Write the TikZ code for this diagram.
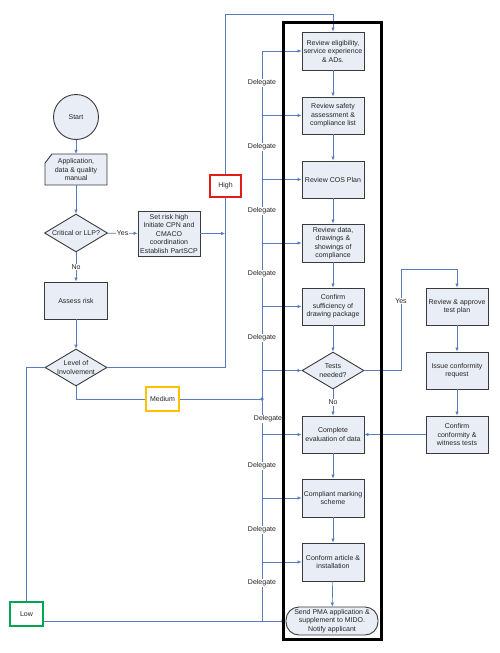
\documentclass[tikz,border=0pt]{standalone}
\usepackage{fontspec}
\setmainfont{Liberation Sans}
\usetikzlibrary{arrows.meta,shapes.geometric}
\definecolor{ln}{HTML}{5A7BBE}
\definecolor{bx}{HTML}{E8EDF6}
\definecolor{bd}{HTML}{3A3A3A}
\definecolor{fred}{HTML}{E31B1B}
\definecolor{fyel}{HTML}{FFC000}
\definecolor{fgrn}{HTML}{00A650}
\tikzset{
 fnt/.style={font=\fontsize{7}{8.5}\selectfont, text=black!85, align=center},
 pbox/.style={fnt, draw=bd, fill=bx, line width=0.9pt, minimum width=62pt, minimum height=37pt, inner sep=1pt},
 dia/.style={diamond, draw=bd, fill=bx, line width=0.9pt, minimum width=63pt, minimum height=38pt, inner sep=0pt},
 txt/.style={fnt, inner sep=1pt},
 con/.style={draw=ln, line width=0.7pt},
 arr/.style={con, -{Latex[length=4pt,width=3.6pt]}},
 lbl/.style={fnt, fill=white, inner sep=1pt},
 flag/.style={fnt, fill=white, line width=2.6pt, minimum width=31pt, minimum height=22pt, inner sep=0pt},
}
\begin{document}
\begin{tikzpicture}[x=1pt,y=1pt]
\useasboundingbox (0,0) rectangle (500,-653);
% left column
\node[circle, draw=bd, fill=bx, line width=0.9pt, minimum size=45pt, inner sep=0pt, fnt] (start) at (76,-117) {Start};
\filldraw[draw=bd, fill=bx, line width=0.9pt] (45,-163) -- (52,-154) -- (107,-154) -- (107,-185) -- (45,-185) -- cycle;
\node[txt, minimum width=62pt, minimum height=31pt] (app) at (76,-169.5) {Application,\\data \& quality\\manual};
\node[dia] (crit) at (76,-233) {};
\node[txt] (critt) at (crit) {Critical or LLP?};
\node[pbox, minimum height=45pt] (risk) at (169,-233.5) {Set risk high\\Initiate CPN and\\CMACO\\coordination\\Establish PartSCP};
\node[pbox, minimum width=63pt] (assess) at (76,-300.5) {Assess risk};
\node[dia, minimum width=62pt, minimum height=37pt] (level) at (76,-367.5) {};
\node[txt] (levelt) at (level) {Level of\\Involvement};
% main column
\node[pbox, minimum height=38pt] (b1) at (333,-51) {Review eligibility,\\service experience\\\& ADs.};
\node[pbox] (b2) at (333,-115.5) {Review safety\\assessment \&\\compliance list};
\node[pbox] (b3) at (333,-179.5) {Review COS Plan};
\node[pbox, minimum height=38pt] (b4) at (333,-243) {Review data,\\drawings \&\\showings of\\compliance};
\node[pbox] (b5) at (333,-306.5) {Confirm\\sufficiency of\\drawing package};
\node[dia, minimum width=62pt, minimum height=37pt] (tests) at (333,-370.5) {};
\node[txt] (testst) at (tests) {Tests\\needed?};
\node[pbox] (b6) at (333,-434.5) {Complete\\evaluation of data};
\node[pbox, minimum height=38pt] (b7) at (333,-498) {Compliant marking\\scheme};
\node[pbox, minimum height=38pt] (b8) at (333,-562) {Conform article \&\\installation};
\node[pbox, rounded corners=13pt, minimum width=92pt, minimum height=28pt] (term) at (332,-621) {Send PMA application \&\\supplement to MIDO.\\Notify applicant};
% right column
\node[pbox] (rap) at (457,-306.5) {Review \& approve\\test plan};
\node[pbox] (icr) at (457,-370.5) {Issue conformity\\request};
\node[pbox] (cwt) at (457,-434.5) {Confirm\\conformity \&\\witness tests};
% helper coordinates
\coordinate (hx) at (225,-14);
\coordinate (ms) at (262,-399);
\coordinate (lx) at (26,-367.5);
\coordinate (yx) at (401,-269);
% connectors left
\draw[arr] (start) -- (app);
\draw[arr] (app) -- (crit);
\draw[arr] (crit) -- node[lbl] {Yes} (risk);
\draw[arr] (crit) -- node[lbl] {No} (assess);
\draw[arr] (assess) -- (level);
\draw[arr] (risk.east) -- (risk.east -| hx);
\draw[arr] (level.east) -| (hx) -| (b1.north);
\draw[con] (level.south) |- (ms);
\fill[ln] (ms) circle (1.8);
\draw[arr] (level.west) -- (lx) |- (term.west);
% spine
\draw[con] (b1.west -| ms) -- (term.west -| ms);
\foreach \n in {b1,b2,b3,b4,b5,tests,b6,b7,b8}
  \draw[arr] (\n.west -| ms) -- (\n.west);
% main vertical flow
\draw[arr] (b1) -- (b2);
\draw[arr] (b2) -- (b3);
\draw[arr] (b3) -- (b4);
\draw[arr] (b4) -- (b5);
\draw[arr] (b5) -- (tests);
\draw[arr] (tests) -- node[lbl] {No} (b6);
\draw[arr] (b6) -- (b7);
\draw[arr] (b7) -- (b8);
\draw[arr] (b8) -- (term);
% right flow
\draw[arr] (tests.east) -| (yx) -| (rap.north);
\node[lbl] (yes2) at (401,-301) {Yes};
\draw[arr] (rap) -- (icr);
\draw[arr] (icr) -- (cwt);
\draw[arr] (cwt) -- (b6);
% delegate labels
\foreach \y [count=\i] in {83,147,211,274,338,466,530,583}
  \node[lbl] (dl\i) at (262,-\y) {Delegate};
\node[lbl] (dl9) at (268,-419) {Delegate};
% flags
\node[flag, draw=fred] (high) at (225.5,-186) {High};
\node[flag, draw=fyel, minimum width=33pt, minimum height=24pt] (medium) at (162.5,-399) {Medium};
\node[flag, draw=fgrn, minimum width=33pt, minimum height=24pt] (low) at (26.5,-614) {Low};
% frame
\node[draw=black, line width=3pt, minimum width=98pt, minimum height=617pt, inner sep=0pt] (frame) at (332,-330.5) {};
\end{tikzpicture}
\end{document}
